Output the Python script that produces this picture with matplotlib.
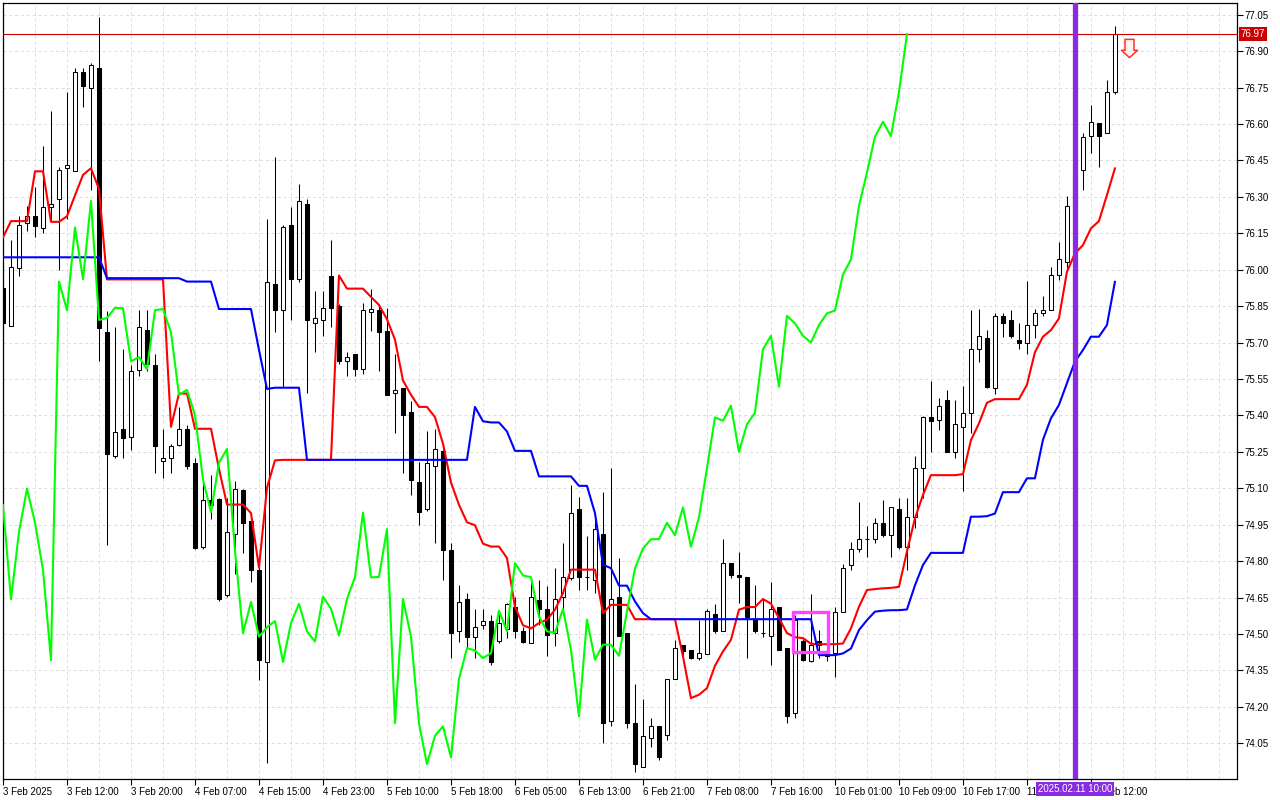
import matplotlib
matplotlib.use("Agg")
import matplotlib.pyplot as plt
import matplotlib.patches as mpatches
from matplotlib.path import Path
import numpy as np

# ---------------- data ----------------
opens = [75.925, 75.77, 76.008, 76.193, 76.219, 76.171, 76.259, 76.289, 76.418, 76.406,
         76.812, 76.748, 76.829, 75.743, 75.232, 75.345, 75.31, 75.587, 75.752, 75.608,
         75.211, 75.223, 75.28, 75.345, 75.206, 74.86, 75.05, 75.054, 74.661, 74.912,
         75.094, 74.964, 74.764, 74.383, 75.939, 75.833, 76.186, 75.961, 76.271, 75.779,
         75.793, 75.976, 75.85, 75.625, 75.653, 75.591, 75.825, 75.833, 75.746, 75.494,
         75.514, 75.415, 75.124, 75.015, 75.191, 75.255, 74.844, 74.514, 74.645, 74.486,
         74.536, 74.553, 74.473, 74.52, 74.612, 74.514, 74.464, 74.642, 74.604, 74.504,
         74.652, 74.73, 75.014, 74.733, 74.721, 74.913, 74.14, 74.652, 74.504, 74.133,
         73.952, 74.071, 74.12, 74.085, 74.314, 74.456, 74.435, 74.401, 74.419, 74.582,
         74.511, 74.792, 74.744, 74.734, 74.561, 74.504, 74.49, 74.611, 74.442, 74.174,
         74.47, 74.387, 74.47, 74.43, 74.42, 74.592, 74.784, 74.852, 74.89, 74.89,
         74.958, 74.907, 75.013, 74.859, 74.98, 75.182, 75.392, 75.381, 75.463, 75.25,
         75.353, 75.411, 75.672, 75.72, 75.511, 75.81, 75.792, 75.71, 75.70, 75.772,
         75.82, 75.832, 75.98, 76.03, 76.26, 76.409, 76.55, 76.602, 76.561, 76.73]
highs = [75.95, 76.124, 76.219, 76.263, 76.34, 76.51, 76.652, 76.424, 76.73, 76.829,
         76.829, 76.85, 77.039, 75.83, 75.764, 75.674, 75.608, 75.833, 75.833, 75.651,
         75.345, 75.284, 75.435, 75.362, 75.223, 75.12, 75.154, 75.059, 75.059, 75.132,
         75.099, 74.998, 74.799, 76.21, 76.462, 76.182, 76.258, 76.354, 76.292, 75.914,
         75.914, 76.124, 75.86, 75.662, 75.653, 75.863, 75.922, 75.855, 75.843, 75.653,
         75.514, 75.46, 75.208, 75.334, 75.343, 75.26, 74.876, 74.701, 74.667, 74.604,
         74.604, 74.578, 74.595, 74.629, 74.654, 74.528, 74.713, 74.721, 74.696, 74.771,
         74.874, 75.115, 75.064, 74.902, 74.97, 75.083, 75.183, 74.813, 74.504, 74.295,
         74.232, 74.154, 74.12, 74.314, 74.474, 74.456, 74.435, 74.556, 74.603, 74.625,
         74.891, 74.792, 74.836, 74.734, 74.702, 74.644, 74.716, 74.611, 74.442, 74.58,
         74.48, 74.664, 74.515, 74.44, 74.612, 74.79, 74.88, 75.045, 74.944, 74.976,
         75.051, 75.021, 75.061, 75.061, 75.232, 75.399, 75.541, 75.47, 75.504, 75.463,
         75.52, 75.834, 75.84, 75.751, 75.823, 75.82, 75.834, 75.779, 75.953, 75.84,
         75.891, 76.012, 76.112, 76.303, 76.44, 76.561, 76.68, 76.602, 76.781, 77.003]
lows = [75.75, 75.77, 75.973, 76.159, 76.133, 76.15, 76.20, 75.999, 76.21, 76.406,
        76.67, 76.327, 75.622, 74.868, 75.223, 75.223, 75.258, 75.561, 75.584, 75.163,
        75.142, 75.163, 75.272, 75.18, 74.852, 74.851, 74.972, 74.635, 74.652, 74.747,
        74.834, 74.713, 74.31, 73.97, 75.743, 75.519, 75.793, 75.951, 75.494, 75.662,
        75.729, 75.762, 75.611, 75.561, 75.564, 75.569, 75.746, 75.581, 75.485, 75.326,
        75.161, 75.074, 74.948, 75.007, 74.876, 74.724, 74.402, 74.466, 74.444, 74.402,
        74.52, 74.372, 74.461, 74.483, 74.483, 74.461, 74.461, 74.536, 74.41, 74.452,
        74.586, 74.723, 74.682, 74.682, 74.668, 74.051, 74.12, 74.49, 74.113, 73.93,
        73.952, 74.034, 73.982, 74.065, 74.314, 74.41, 74.397, 74.394, 74.419, 74.504,
        74.511, 74.73, 74.627, 74.401, 74.504, 74.487, 74.373, 74.435, 74.133, 74.154,
        74.387, 74.383, 74.40, 74.39, 74.321, 74.592, 74.763, 74.839, 74.818, 74.873,
        74.9, 74.818, 74.852, 74.763, 74.935, 75.058, 75.25, 75.339, 75.25, 75.223,
        75.09, 75.326, 75.621, 75.511, 75.488, 75.724, 75.72, 75.672, 75.651, 75.72,
        75.81, 75.832, 75.957, 76.005, 76.22, 76.33, 76.479, 76.421, 76.561, 76.722]
closes = [75.78, 76.01, 76.185, 76.219, 76.181, 76.259, 76.271, 76.41, 76.43, 76.812,
          76.756, 76.843, 75.76, 75.241, 75.331, 75.307, 75.582, 75.764, 75.613, 75.272,
          75.223, 75.272, 75.345, 75.19, 74.855, 75.05, 75.03, 74.643, 74.92, 75.099,
          74.958, 74.764, 74.392, 75.951, 75.833, 76.174, 75.961, 76.283, 75.793, 75.801,
          75.843, 75.841, 75.623, 75.64, 75.591, 75.833, 75.838, 75.742, 75.485, 75.505,
          75.401, 75.136, 75.002, 75.205, 75.262, 74.844, 74.503, 74.632, 74.489, 74.528,
          74.553, 74.385, 74.545, 74.624, 74.511, 74.469, 74.654, 74.604, 74.494, 74.644,
          74.734, 75.0, 74.733, 74.735, 74.932, 74.133, 74.644, 74.49, 74.133, 73.964,
          74.081, 74.12, 73.992, 74.314, 74.442, 74.432, 74.401, 74.421, 74.596, 74.511,
          74.792, 74.741, 74.734, 74.572, 74.511, 74.505, 74.603, 74.435, 74.161, 74.559,
          74.394, 74.456, 74.456, 74.41, 74.592, 74.77, 74.852, 74.89, 74.891, 74.958,
          74.907, 75.021, 74.859, 74.98, 75.182, 75.392, 75.378, 75.44, 75.25, 75.363,
          75.411, 75.672, 75.728, 75.518, 75.81, 75.779, 75.728, 75.70, 75.772, 75.82,
          75.832, 75.98, 76.042, 76.262, 76.40, 76.547, 76.609, 76.55, 76.73, 76.969]

# Tenkan-sen (red), read per bar
tenkan = [76.133, 76.20, 76.20, 76.20, 76.405, 76.405, 76.197, 76.197, 76.22, 76.306,
          76.39, 76.418, 76.332, 75.96, 75.96, 75.96, 75.96, 75.96, 75.96, 75.96,
          75.96, 75.353, 75.49, 75.49, 75.345, 75.345, 75.345, 75.18, 75.033, 75.033,
          75.033, 74.998, 74.773, 75.102, 75.215, 75.217, 75.217, 75.217, 75.217, 75.217,
          75.217, 75.217, 75.976, 75.922, 75.922, 75.922, 75.888, 75.855, 75.796, 75.712,
          75.544, 75.485, 75.435, 75.435, 75.393, 75.284, 75.124, 75.032, 74.96, 74.948,
          74.872, 74.86, 74.86, 74.813, 74.612, 74.536, 74.523, 74.545, 74.559, 74.60,
          74.668, 74.765, 74.765, 74.765, 74.765, 74.586, 74.62, 74.62, 74.62, 74.561,
          74.561, 74.561, 74.561, 74.561, 74.561, 74.408, 74.236, 74.25, 74.277, 74.369,
          74.428, 74.476, 74.60, 74.611, 74.611, 74.644, 74.625, 74.566, 74.504, 74.487,
          74.483, 74.46, 74.458, 74.458, 74.458, 74.461, 74.523, 74.612, 74.681, 74.685,
          74.688, 74.69, 74.694, 74.839, 74.976, 75.072, 75.154, 75.154, 75.154, 75.154,
          75.158, 75.298, 75.367, 75.452, 75.467, 75.467, 75.467, 75.467, 75.526, 75.66,
          75.724, 75.751, 75.799, 75.991, 76.067, 76.101, 76.17, 76.20, 76.307, 76.417]

# Kijun-sen (blue), read per bar
kijun = [76.051, 76.051, 76.051, 76.051, 76.051, 76.051, 76.051, 76.051, 76.051, 76.051,
         76.051, 76.051, 76.051, 75.965, 75.965, 75.965, 75.965, 75.965, 75.965, 75.965,
         75.965, 75.965, 75.965, 75.951, 75.951, 75.951, 75.951, 75.838, 75.838, 75.838,
         75.838, 75.838, 75.67, 75.509, 75.514, 75.514, 75.514, 75.514, 75.217, 75.217,
         75.217, 75.217, 75.217, 75.217, 75.217, 75.217, 75.217, 75.217, 75.217, 75.217,
         75.217, 75.217, 75.217, 75.217, 75.217, 75.217, 75.217, 75.217, 75.217, 75.435,
         75.376, 75.371, 75.371, 75.334, 75.254, 75.254, 75.254, 75.149, 75.149, 75.149,
         75.149, 75.149, 75.11, 75.11, 74.998, 74.785, 74.771, 74.699, 74.699, 74.634,
         74.586, 74.561, 74.561, 74.561, 74.561, 74.561, 74.561, 74.561, 74.561, 74.561,
         74.561, 74.561, 74.561, 74.561, 74.561, 74.561, 74.561, 74.561, 74.561, 74.561,
         74.561, 74.561, 74.413, 74.413, 74.413, 74.42, 74.44, 74.516, 74.557, 74.592,
         74.596, 74.598, 74.598, 74.601, 74.70, 74.784, 74.834, 74.834, 74.834, 74.834,
         74.834, 74.983, 74.983, 74.985, 74.996, 75.084, 75.084, 75.084, 75.141, 75.141,
         75.299, 75.388, 75.443, 75.533, 75.622, 75.669, 75.724, 75.724, 75.772, 75.95]

chikou_shift = 26  # Chikou span = closes shifted back 26 bars

xtick_bars = [0, 8, 16, 24, 32, 40, 48, 56, 64, 72, 80, 88, 96, 104, 112, 120, 128, 136]
xtick_labels = ["3 Feb 2025", "3 Feb 12:00", "3 Feb 20:00", "4 Feb 07:00", "4 Feb 15:00",
                "4 Feb 23:00", "5 Feb 10:00", "5 Feb 18:00", "6 Feb 05:00", "6 Feb 13:00",
                "6 Feb 21:00", "7 Feb 08:00", "7 Feb 16:00", "10 Feb 01:00", "10 Feb 09:00",
                "10 Feb 17:00", "11 Feb 04:00", "11 Feb 12:00"]
yticks = [74.05, 74.20, 74.35, 74.50, 74.65, 74.80, 74.95, 75.10, 75.25, 75.40, 75.55,
          75.70, 75.85, 76.00, 76.15, 76.30, 76.45, 76.60, 76.75, 76.90, 77.05]

current_price = 76.97
vline_bar = 134
vline_label = "2025.02.11 10:00"
box_bars = [98.8, 103.1]
box_prices = [74.424, 74.59]
arrow_bar = [140.8]
arrow_price = [76.9145]

# ---------------- drawing ----------------
plt.rcParams['font.family'] = ['Liberation Sans', 'DejaVu Sans']
fig = plt.figure(figsize=(12.8, 8), dpi=100)
ax = fig.add_axes([3 / 1280, 21 / 800, 1234 / 1280, 776 / 800])

n = len(closes)
x = np.arange(n)
o = np.array(opens); c = np.array(closes); h = np.array(highs); l = np.array(lows)

# grid
ax.set_xticks(np.arange(0, 160, 4), minor=True)
ax.grid(True, which='both', axis='x', color='#dcdcdc', linestyle=(0, (3, 3)), linewidth=0.7, zorder=0)
ax.grid(True, which='major', axis='y', color='#dcdcdc', linestyle=(0, (3, 3)), linewidth=0.7, zorder=0)
ax.set_axisbelow(True)

# candles
ax.vlines(x, l, h, color='black', linewidth=0.75, zorder=2)
up = c >= o
body_bottom = np.minimum(o, c)
body_height = np.abs(c - o)
ax.bar(x[up], body_height[up], bottom=body_bottom[up], width=0.6, facecolor='white',
       edgecolor='black', linewidth=0.75, zorder=3)
ax.bar(x[~up], body_height[~up], bottom=body_bottom[~up], width=0.6, facecolor='black',
       edgecolor='black', linewidth=0.75, zorder=3)

# indicator lines
ax.axhline(current_price, color='#cc0000', linewidth=0.8, zorder=4)
ax.plot(x, tenkan, color='#ff0000', linewidth=1.5, zorder=5)
ax.plot(x, kijun, color='#0000ff', linewidth=1.5, zorder=6)
ax.plot(x[:n - chikou_shift], c[chikou_shift:], color='#00ff00', linewidth=1.5, zorder=7)

# magenta box
ax.add_patch(mpatches.Rectangle((box_bars[0], box_prices[0]), box_bars[1] - box_bars[0],
                                box_prices[1] - box_prices[0], fill=False,
                                edgecolor='#ff44ff', linewidth=2.4, zorder=8))

# purple vertical line
ax.axvline(vline_bar, color='#8a2be2', linewidth=3.8, zorder=9)

# sell arrow
arrow_path = Path([(-0.49, 1.0), (0.49, 1.0), (0.49, -0.2), (0.875, -0.2), (0.0, -1.0),
                   (-0.875, -0.2), (-0.49, -0.2), (-0.49, 1.0)],
                  [Path.MOVETO] + [Path.LINETO] * 6 + [Path.CLOSEPOLY])
ax.plot(arrow_bar, arrow_price, linestyle='none', marker=arrow_path, markersize=13.2,
        markerfacecolor='#fff4ee', markeredgecolor='#ff3030', markeredgewidth=1.1, zorder=10)

# axes
ax.set_xlim(0.0125, 154.26)
ax.set_ylim(73.903, 77.098)
ax.set_xticks(xtick_bars)
ax.set_xticklabels(xtick_labels)
for lab in ax.get_xticklabels():
    lab.set_horizontalalignment('left')
ax.tick_params(axis='x', which='major', length=4, width=0.8, pad=1.5, labelsize=7, color='black')
ax.tick_params(axis='x', which='minor', length=0)
ax.yaxis.tick_right()
ax.set_yticks(yticks)
ax.set_yticklabels([f"{v:.2f}" for v in yticks])
ax.tick_params(axis='y', length=4, width=0.8, pad=1.5, labelsize=7, color='black')
for sp in ax.spines.values():
    sp.set_linewidth(0.9)
    sp.set_color('black')

# price label on right axis
ax.annotate(f"{current_price:.2f}", xy=(1.0, current_price), xycoords=ax.get_yaxis_transform(),
            xytext=(2.5, 0), textcoords='offset points', ha='left', va='center',
            color='white', fontsize=7, annotation_clip=False, zorder=20,
            bbox=dict(boxstyle='square,pad=0.2', facecolor='#cc0000', edgecolor='none'))

# time label on x axis
ax.text(vline_bar, -0.006, vline_label, transform=ax.get_xaxis_transform(), ha='center', va='top',
        color='white', fontsize=7, zorder=20, clip_on=False,
        bbox=dict(boxstyle='square,pad=0.2', facecolor='#8a2be2', edgecolor='none'))

fig.savefig('out.png', dpi=100)
